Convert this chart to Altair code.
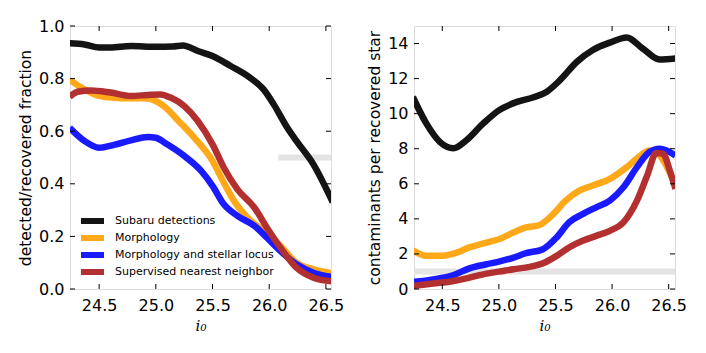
import altair as alt
import pandas as pd

series = ["Subaru detections", "Morphology", "Morphology and stellar locus",
          "Supervised nearest neighbor"]
colors = ["#141414", "#FFA81A", "#1A1AFF", "#B33030"]

# ---- left panel: detected/recovered fraction ----
l_black_x = [24.24, 24.37, 24.5, 24.6, 24.78, 25.0, 25.15, 25.24, 25.37, 25.5, 25.66,
             25.83, 25.95, 26.04, 26.15, 26.24, 26.39, 26.56]
l_black_y = [0.934, 0.930, 0.918, 0.918, 0.924, 0.921, 0.922, 0.926, 0.905, 0.886, 0.848,
             0.804, 0.759, 0.702, 0.620, 0.563, 0.474, 0.33]
l_orange_x = [24.24, 24.37, 24.5, 24.63, 24.78, 24.9, 25.0, 25.08, 25.2, 25.34, 25.5,
              25.6, 25.69, 25.81, 25.95, 26.1, 26.24, 26.39, 26.56]
l_orange_y = [0.795, 0.759, 0.734, 0.727, 0.725, 0.725, 0.715, 0.692, 0.639, 0.575, 0.487,
              0.404, 0.335, 0.271, 0.221, 0.163, 0.100, 0.075, 0.060]
l_blue_x = [24.24, 24.37, 24.5, 24.63, 24.78, 24.93, 25.0, 25.1, 25.25, 25.4, 25.5,
            25.6, 25.72, 25.87, 25.98, 26.1, 26.24, 26.39, 26.56]
l_blue_y = [0.613, 0.563, 0.537, 0.548, 0.565, 0.578, 0.575, 0.550, 0.506, 0.449, 0.392,
            0.322, 0.278, 0.240, 0.195, 0.144, 0.094, 0.062, 0.045]
l_red_x = [24.24, 24.31, 24.43, 24.6, 24.78, 24.93, 25.04, 25.13, 25.25, 25.37, 25.5,
           25.6, 25.72, 25.87, 25.98, 26.1, 26.24, 26.39, 26.56]
l_red_y = [0.731, 0.750, 0.755, 0.747, 0.734, 0.738, 0.740, 0.728, 0.696, 0.639, 0.550,
           0.461, 0.379, 0.309, 0.233, 0.157, 0.081, 0.043, 0.029]

# ---- right panel: contaminants per recovered star ----
r_black_x = [24.24, 24.36, 24.48, 24.6, 24.71, 24.86, 25.0, 25.16, 25.3, 25.42, 25.54,
             25.69, 25.83, 25.98, 26.13, 26.27, 26.42, 26.56]
r_black_y = [10.95, 9.43, 8.38, 8.03, 8.47, 9.43, 10.19, 10.67, 10.92, 11.24, 11.91,
             12.96, 13.63, 14.05, 14.35, 13.72, 13.09, 13.15]
r_orange_x = [24.24, 24.36, 24.48, 24.6, 24.74, 24.89, 25.0, 25.13, 25.24, 25.36, 25.48,
              25.59, 25.71, 25.83, 25.98, 26.13, 26.25, 26.33, 26.42, 26.56]
r_orange_y = [2.21, 1.89, 1.89, 2.02, 2.37, 2.65, 2.84, 3.23, 3.51, 3.65, 4.27,
              5.04, 5.61, 5.90, 6.28, 6.95, 7.61, 7.90, 7.61, 5.90]
r_blue_x = [24.24, 24.42, 24.6, 24.74, 24.89, 25.0, 25.13, 25.24, 25.39, 25.51, 25.62,
            25.74, 25.86, 25.98, 26.1, 26.22, 26.33, 26.42, 26.51, 26.56]
r_blue_y = [0.40, 0.55, 0.80, 1.18, 1.41, 1.56, 1.79, 2.04, 2.27, 2.94, 3.80,
            4.27, 4.66, 5.04, 5.80, 6.95, 7.81, 8.00, 7.81, 7.61]
r_red_x = [24.24, 24.42, 24.6, 24.74, 24.89, 25.0, 25.13, 25.27, 25.39, 25.51, 25.62,
           25.74, 25.86, 25.98, 26.1, 26.22, 26.31, 26.39, 26.45, 26.51, 26.56]
r_red_y = [0.17, 0.31, 0.46, 0.65, 0.88, 0.99, 1.13, 1.26, 1.47, 1.89, 2.37,
           2.75, 3.03, 3.32, 3.80, 5.04, 6.47, 7.75, 7.71, 6.76, 5.71]

left_domain = [24.243, 26.545]
right_domain = [24.25, 26.556]
x_ticks = [24.5, 25.0, 25.5, 26.0, 26.5]
left_y_ticks = [0.0, 0.2, 0.4, 0.6, 0.8, 1.0]
right_y_ticks = [0, 2, 4, 6, 8, 10, 12, 14]
left_band = {"x": [26.08], "x2": [26.6], "y": [0.5]}
right_band = {"x": [24.2], "x2": [26.6], "y": [1.0]}

W, H = 261, 263
TICK = 5
FS = 16


def frame(xs, ys):
    rows = []
    for s, x, y in zip(series, xs, ys):
        for i, (a, b) in enumerate(zip(x, y)):
            rows.append({"series": s, "x": a, "y": b, "i": i})
    return pd.DataFrame(rows)


color_enc = alt.Color("series:N", scale=alt.Scale(domain=series, range=colors), legend=None)


def panel(df, xdom, ydom, yticks, ytitle, yfmt, band, show_legend):
    xs = alt.Scale(domain=xdom, nice=False, zero=False)
    ys = alt.Scale(domain=ydom, nice=False, zero=False)
    xax = alt.Axis(values=x_ticks, format=".1f", ticks=False, domain=False, grid=False,
                   labelFontSize=FS, labelPadding=8, title="i₀", titleFont="DejaVu Serif",
                   titleFontStyle="italic", titleFontWeight="normal", titleFontSize=15,
                   titlePadding=5, labelFont="DejaVu Sans", labelColor="#000",
                   titleColor="#000")
    yax = alt.Axis(values=yticks, format=yfmt, ticks=False, domain=False, grid=False,
                   labelFontSize=FS, labelPadding=6, title=ytitle, titleFontSize=15.5,
                   titleFontWeight="normal", titleFont="DejaVu Sans", titlePadding=5,
                   labelFont="DejaVu Sans", labelColor="#000", titleColor="#000")

    band_df = pd.DataFrame(band)
    band_layer = alt.Chart(band_df).mark_rule(color="#e3e3e3", strokeWidth=6, clip=True).encode(
        x=alt.X("x:Q", scale=xs, axis=xax), x2="x2:Q", y=alt.Y("y:Q", scale=ys, axis=yax))

    lines = alt.Chart(df).mark_line(strokeWidth=6.5, interpolate="monotone", clip=True).encode(
        x=alt.X("x:Q", scale=xs, axis=xax),
        y=alt.Y("y:Q", scale=ys, axis=yax),
        color=color_enc,
        order="i:Q")

    xt = pd.DataFrame({"t": x_ticks})
    yt = pd.DataFrame({"t": yticks})
    tb = alt.Chart(xt).mark_rule(color="#000", strokeWidth=1).encode(
        x=alt.X("t:Q", scale=xs, axis=xax), y=alt.value(H), y2=alt.value(H - TICK))
    tt = alt.Chart(xt).mark_rule(color="#000", strokeWidth=1).encode(
        x=alt.X("t:Q", scale=xs, axis=xax), y=alt.value(0), y2=alt.value(TICK))
    tl = alt.Chart(yt).mark_rule(color="#000", strokeWidth=1).encode(
        y=alt.Y("t:Q", scale=ys, axis=yax), x=alt.value(0), x2=alt.value(TICK))
    tr = alt.Chart(yt).mark_rule(color="#000", strokeWidth=1).encode(
        y=alt.Y("t:Q", scale=ys, axis=yax), x=alt.value(W), x2=alt.value(W - TICK))

    main = alt.layer(band_layer, lines, tb, tt, tl, tr)
    if not show_legend:
        return main.properties(width=W, height=H)

    # legend drawn in the lower-left corner of the plot
    leg_df = pd.DataFrame({"series": series})
    ly = alt.Y("series:N", axis=None,
               scale=alt.Scale(type="point", domain=series, range=[195, 246], padding=0))
    leg_sym = alt.Chart(leg_df).mark_rule(strokeWidth=6).encode(
        y=ly, x=alt.value(11), x2=alt.value(34), color=color_enc)
    leg_txt = alt.Chart(leg_df).mark_text(align="left", baseline="middle", fontSize=11,
                                          font="DejaVu Sans", color="#000").encode(
        y=ly, x=alt.value(45), text="series:N")
    legend = alt.layer(leg_sym, leg_txt)
    return alt.layer(main, legend).resolve_scale(y="independent").properties(width=W, height=H)


left_df = frame([l_black_x, l_orange_x, l_blue_x, l_red_x],
                [l_black_y, l_orange_y, l_blue_y, l_red_y])
right_df = frame([r_black_x, r_orange_x, r_blue_x, r_red_x],
                 [r_black_y, r_orange_y, r_blue_y, r_red_y])

left = panel(left_df, left_domain, [0, 1], left_y_ticks, "detected/recovered fraction",
             ".1f", left_band, True)
right = panel(right_df, right_domain, [0, 15], right_y_ticks, "contaminants per recovered star",
              "d", right_band, False)

chart = alt.hconcat(left, right, spacing=22).properties(
    padding={"left": 10, "top": 9, "right": 5, "bottom": 5}
).configure_view(stroke="#000", strokeWidth=1).configure(background="white")

chart.save("out.html", embed_options={"renderer": "svg", "actions": False})
